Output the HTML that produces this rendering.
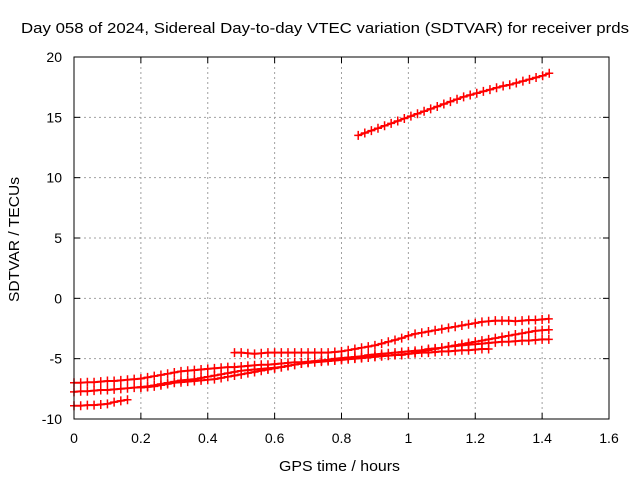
<!DOCTYPE html>
<html><head><meta charset="utf-8"><style>
body{margin:0;background:#fff;}
svg{display:block;font-family:"Liberation Sans",sans-serif;}
</style></head><body>
<svg id="chart" width="640" height="480">
<rect width="640" height="480" fill="#fff"/>
<text x="21" y="33" font-size="15" textLength="608" lengthAdjust="spacingAndGlyphs">Day 058 of 2024, Sidereal Day-to-day VTEC variation (SDTVAR) for receiver prds</text>
<g id="grid"></g>
<g id="ticks"></g>
<g id="series"></g>
<rect x="74" y="57" width="535" height="362" fill="none" stroke="#000" stroke-width="1"/>
<text x="279" y="471" font-size="15" textLength="121" lengthAdjust="spacingAndGlyphs">GPS time / hours</text>
<text transform="translate(19,302) rotate(-90)" font-size="15" textLength="125" lengthAdjust="spacingAndGlyphs">SDTVAR / TECUs</text>
</svg>
<script>
const xTicks=[0,0.2,0.4,0.6,0.8,1,1.2,1.4,1.6];
const xTickLabels=["0","0.2","0.4","0.6","0.8","1","1.2","1.4","1.6"];
const yTicks=[-10,-5,0,5,10,15,20];
const yTickLabels=["-10","-5","0","5","10","15","20"];
const seriesStart=[0.85,0,0,0.2,0,0.48];
const seriesStep=[0.0197,0.02,0.02,0.02,0.02,0.02];
const s1=[13.5,13.7,13.9,14.1,14.3,14.5,14.7,14.9,15.1,15.3,15.5,15.7,15.9,16.1,16.3,16.5,16.7,16.85,17.0,17.15,17.3,17.45,17.6,17.7,17.85,18.0,18.15,18.3,18.45,18.65];
const s2=[-8.9,-8.9,-8.85,-8.85,-8.8,-8.75,-8.6,-8.5,-8.4];
const s3=[-7.0,-7.0,-6.95,-6.95,-6.9,-6.85,-6.85,-6.8,-6.75,-6.7,
-6.65,-6.55,-6.45,-6.35,-6.25,-6.15,-6.05,-6.0,-5.95,-5.9,
-5.85,-5.8,-5.75,-5.7,-5.7,-5.65,-5.6,-5.55,-5.5,-5.5,
-5.45,-5.4,-5.35,-5.3,-5.3,-5.25,-5.2,-5.15,-5.1,-5.1,
-5.05,-5.0,-4.95,-4.9,-4.85,-4.8,-4.75,-4.75,-4.7,-4.7,
-4.6,-4.5,-4.4,-4.3,-4.2,-4.1,-4.0,-3.9,-3.8,-3.7,
-3.6,-3.5,-3.4,-3.3,-3.2,-3.1,-3.0,-2.9,-2.8,-2.7,-2.65,-2.6];
const s6=[-7.4,-7.35,-7.3,-7.2,-7.1,-7.0,-6.95,-6.9,-6.85,-6.8,
-6.75,-6.7,-6.6,-6.5,-6.4,-6.3,-6.2,-6.1,-6.0,-5.9,
-5.8,-5.7,-5.6,-5.5,-5.4,-5.35,-5.3,-5.25,-5.2,-5.15,
-5.1,-5.05,-5.0,-4.95,-4.9,-4.85,-4.8,-4.75,-4.7,-4.65,
-4.6,-4.55,-4.5,-4.5,-4.45,-4.4,-4.4,-4.35,-4.3,-4.3,-4.25,-4.2,-4.2];
const s5=[-7.75,-7.7,-7.7,-7.65,-7.6,-7.6,-7.55,-7.5,-7.45,-7.4,
-7.35,-7.3,-7.2,-7.1,-7.0,-6.9,-6.8,-6.75,-6.7,-6.6,
-6.5,-6.4,-6.3,-6.2,-6.1,-6.0,-5.95,-5.9,-5.85,-5.8,
-5.75,-5.7,-5.6,-5.5,-5.4,-5.3,-5.2,-5.15,-5.1,-5.0,
-4.95,-4.9,-4.85,-4.8,-4.7,-4.65,-4.6,-4.55,-4.5,-4.45,
-4.4,-4.35,-4.3,-4.2,-4.15,-4.1,-4.0,-3.95,-3.9,-3.85,
-3.8,-3.75,-3.7,-3.65,-3.6,-3.6,-3.55,-3.5,-3.5,-3.45,-3.4,-3.4];
const s4=[-4.5,-4.5,-4.55,-4.6,-4.55,-4.5,-4.5,-4.5,-4.5,-4.5,
-4.5,-4.5,-4.5,-4.5,-4.5,-4.45,-4.4,-4.3,-4.2,-4.1,
-4.0,-3.9,-3.75,-3.6,-3.45,-3.3,-3.1,-2.95,-2.85,-2.75,
-2.65,-2.55,-2.45,-2.35,-2.25,-2.15,-2.05,-1.95,-1.9,-1.85,
-1.85,-1.85,-1.9,-1.85,-1.8,-1.8,-1.75,-1.7];
const seriesValues=[s1,s2,s3,s6,s5,s4];

const NS="http://www.w3.org/2000/svg";
const X0=74,X1=609,Y0=419,Y1=57,xMin=0,xMax=1.6,yMin=-10,yMax=20;
function xs(v){return X0+(v-xMin)/(xMax-xMin)*(X1-X0);}
function ys(v){return Y0-(v-yMin)/(yMax-yMin)*(Y0-Y1);}
function mk(tag,attrs,parent){const e=document.createElementNS(NS,tag);for(const k in attrs)e.setAttribute(k,attrs[k]);parent.appendChild(e);return e;}
const grid=document.getElementById('grid'),ticks=document.getElementById('ticks'),ser=document.getElementById('series');
xTicks.forEach((t,i)=>{
  const x=xs(t);
  if(i>0&&i<xTicks.length-1){
    const g=mk('line',{x1:x,x2:x,y1:Y1,y2:Y0,stroke:'#a0a0a0','stroke-dasharray':'2,3'},grid);
    
    
  }
  mk('line',{x1:x,x2:x,y1:Y0,y2:Y0-6,stroke:'#000'},ticks);
  mk('line',{x1:x,x2:x,y1:Y1,y2:Y1+6,stroke:'#000'},ticks);
  const l=mk('text',{x:x,y:443,'font-size':14,'text-anchor':'middle'},ticks);
  l.textContent=xTickLabels[i];
  
  
});
yTicks.forEach((t,i)=>{
  const y=ys(t);
  if(i>0&&i<yTicks.length-1){
    const g=mk('line',{x1:X0,x2:X1,y1:y,y2:y,stroke:'#a0a0a0','stroke-dasharray':'2,3'},grid);
    
    
  }
  mk('line',{x1:X0,x2:X0+6,y1:y,y2:y,stroke:'#000'},ticks);
  mk('line',{x1:X1,x2:X1-6,y1:y,y2:y,stroke:'#000'},ticks);
  const l=mk('text',{x:62,y:y+5,'font-size':14,'text-anchor':'end'},ticks);
  l.textContent=yTickLabels[i];
  
  
});
seriesValues.forEach((vals,si)=>{
  const g=mk('g',{},ser);
  
  
  const pts=vals.map((v,i)=>[xs(seriesStart[si]+i*seriesStep[si]),ys(v)]);
  mk('polyline',{points:pts.map(p=>p[0].toFixed(1)+','+p[1].toFixed(1)).join(' '),fill:'none',stroke:'#f00','stroke-width':2},g);
  pts.forEach(p=>{
    const m=mk('path',{d:`M${p[0]-4},${p[1]}h8M${p[0]},${p[1]-4.5}v9`,stroke:'#f00','stroke-width':1.5},g);
    
    
  });
});
</script>
</body></html>
